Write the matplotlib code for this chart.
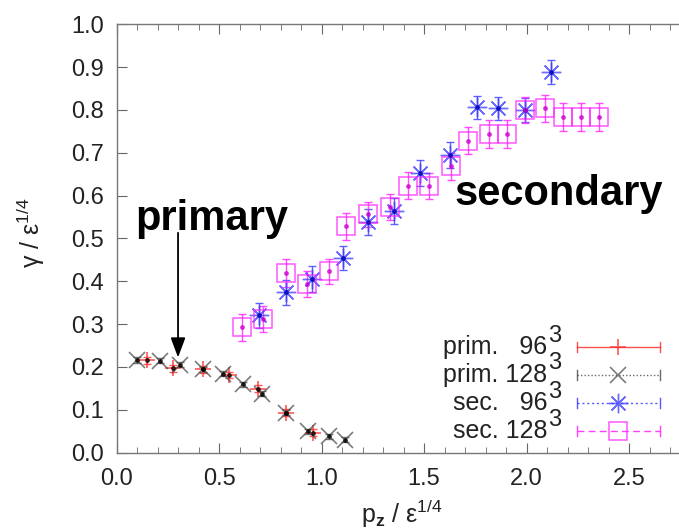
import numpy as np
import matplotlib
matplotlib.use("Agg")
import matplotlib.pyplot as plt
from matplotlib.ticker import FormatStrFormatter

plt.rcParams["font.family"] = ["Liberation Sans", "DejaVu Sans"]
plt.rcParams["mathtext.fontset"] = "custom"
plt.rcParams["mathtext.rm"] = "Liberation Sans"
plt.rcParams["mathtext.it"] = "Liberation Sans"
plt.rcParams["mathtext.bf"] = "Liberation Sans:bold"

# primary branch, 96^3 lattice
prim96_x = [0.15, 0.275, 0.42, 0.55, 0.69, 0.825, 0.96]
prim96_y = [0.215, 0.197, 0.194, 0.181, 0.149, 0.093, 0.046]
prim96_err = [0.008, 0.008, 0.008, 0.008, 0.008, 0.008, 0.008]

# primary branch, 128^3 lattice
prim128_x = [0.10, 0.21, 0.31, 0.42, 0.52, 0.615, 0.71, 0.825, 0.935, 1.035, 1.115]
prim128_y = [0.216, 0.214, 0.205, 0.194, 0.184, 0.159, 0.137, 0.093, 0.050, 0.038, 0.030]
prim128_err = [0.006, 0.006, 0.006, 0.006, 0.006, 0.006, 0.006, 0.006, 0.006, 0.006, 0.006]

# secondary branch, 96^3 lattice
sec96_x = [0.695, 0.825, 0.952, 1.105, 1.227, 1.352, 1.479, 1.625, 1.756, 1.859, 1.992, 2.117]
sec96_y = [0.320, 0.374, 0.405, 0.454, 0.538, 0.564, 0.652, 0.695, 0.806, 0.804, 0.800, 0.889]
sec96_err = [0.030, 0.030, 0.030, 0.028, 0.030, 0.030, 0.030, 0.030, 0.027, 0.027, 0.028, 0.028]

# secondary branch, 128^3 lattice
sec128_x = [0.612, 0.715, 0.825, 0.929, 1.035, 1.121, 1.227, 1.333, 1.422, 1.524,
            1.631, 1.716, 1.818, 1.903, 1.992, 2.089, 2.179, 2.265, 2.352]
sec128_y = [0.292, 0.312, 0.419, 0.393, 0.423, 0.528, 0.556, 0.574, 0.623, 0.623,
            0.668, 0.728, 0.743, 0.743, 0.800, 0.804, 0.784, 0.784, 0.784]
sec128_err = [0.031, 0.030, 0.032, 0.030, 0.030, 0.032, 0.030, 0.030, 0.032, 0.030,
              0.032, 0.032, 0.033, 0.033, 0.030, 0.032, 0.033, 0.033, 0.033]

x_ticks = [0.0, 0.5, 1.0, 1.5, 2.0, 2.5]
y_ticks = [0.0, 0.1, 0.2, 0.3, 0.4, 0.5, 0.6, 0.7, 0.8, 0.9, 1.0]

RED = "#ff3030"
GREY = "#505050"
BLUE = "#3a3aff"
MAGENTA = "#ff20ff"

asterisk = (8, 2, 0)

# (x, y, err, colour, marker, size, edge width, key line style, key name, lattice)
series = [
    (prim96_x, prim96_y, prim96_err, RED, "+", 11, 1.3, "-", "prim.   96", "3"),
    (prim128_x, prim128_y, prim128_err, GREY, "x", 11, 1.2, (0, (1, 1.5)), "prim. 128", "3"),
    (sec96_x, sec96_y, sec96_err, BLUE, asterisk, 14, 1.0, (0, (1.5, 2)), "sec.   96", "3"),
    (sec128_x, sec128_y, sec128_err, MAGENTA, "s", 13, 1.1, (0, (5, 3)), "sec. 128", "3"),
]

fig = plt.figure(figsize=(6.79, 5.31), dpi=100)
ax = fig.add_axes([0.1716, 0.1478, 0.906, 0.8064])

for x, y, err, col, mk, ms, mew, ls, lab, sup in series:
    ax.errorbar(x, y, yerr=err, fmt="none", ecolor=col, elinewidth=1.0,
                capsize=3, capthick=1.0, alpha=0.8, zorder=2)
    ax.plot(x, y, linestyle="none", marker=mk, markersize=ms,
            markerfacecolor="none", markeredgecolor=col, markeredgewidth=mew,
            alpha=0.75, zorder=3)
    # darker centre where the error bar crosses the marker
    ax.plot(x, y, linestyle="none", marker="o", markersize=2.5,
            color="black" if col in (RED, GREY) else ("#0000b0" if col == BLUE else "#d000d0"),
            alpha=0.7, zorder=4)

ax.set_xlim(0, 3.0)
ax.set_ylim(0, 1.0)
ax.set_xticks(x_ticks)
ax.set_xticks(np.arange(0, 3.01, 0.1), minor=True)
ax.set_yticks(y_ticks)
ax.xaxis.set_major_formatter(FormatStrFormatter("%.1f"))
ax.yaxis.set_major_formatter(FormatStrFormatter("%.1f"))
ax.tick_params(which="both", direction="in", top=True, right=True,
               color="#666666", labelsize=17, labelcolor="#222222")
ax.tick_params(axis="x", which="major", length=7, pad=11)
ax.tick_params(axis="x", which="minor", length=4)
ax.tick_params(axis="y", which="major", length=7, pad=9)
for s in ax.spines.values():
    s.set_color("#777777")
    s.set_linewidth(1.0)

ax.set_xlabel(r"p$_\mathbf{z}$ / ε$^{1/4}$", fontsize=18, color="#222222")
ax.xaxis.set_label_coords(0.464, -0.105)
ax.set_ylabel(r"γ / ε$^{1/4}$", fontsize=18, color="#222222")
ax.yaxis.set_label_coords(-0.113, 0.513)

# branch annotations
ax.text(0.09, 0.52, "primary", fontsize=30, fontweight="bold", ha="left",
        va="baseline")
ax.text(1.65, 0.578, "secondary", fontsize=30, fontweight="bold", ha="left",
        va="baseline")
ax.annotate("", xy=(0.30, 0.222), xytext=(0.30, 0.513),
            arrowprops=dict(arrowstyle="-|>,head_length=1.2,head_width=0.45",
                            color="black", lw=1.3, shrinkA=0, shrinkB=0))

# gnuplot-style key: text right-aligned, sample line with end caps
key_rows = [0.246, 0.181, 0.115, 0.050]
text_right = 0.700
line_x0, line_x1, mark_x = 0.749, 0.884, 0.815
for (x, y, err, col, mk, ms, mew, ls, lab, sup), ky in zip(series, key_rows):
    ax.text(text_right, ky, lab, transform=ax.transAxes, ha="right",
            va="center", fontsize=18, color="#222222")
    ax.text(text_right + 0.001, ky + 0.027, sup, transform=ax.transAxes,
            ha="left", va="center", fontsize=17, color="#222222")
    ax.plot([line_x0, line_x1], [ky, ky], transform=ax.transAxes,
            color=col, lw=1.0, linestyle=ls, alpha=0.85)
    for ex in (line_x0, line_x1):
        ax.plot([ex, ex], [ky - 0.012, ky + 0.012], transform=ax.transAxes,
                color=col, lw=1.0, alpha=0.85)
    ax.plot([mark_x], [ky], transform=ax.transAxes, linestyle="none",
            marker=mk, markersize=ms, markerfacecolor="none",
            markeredgecolor=col, markeredgewidth=mew, alpha=0.75)

fig.savefig("out.png", dpi=100, facecolor="white")
